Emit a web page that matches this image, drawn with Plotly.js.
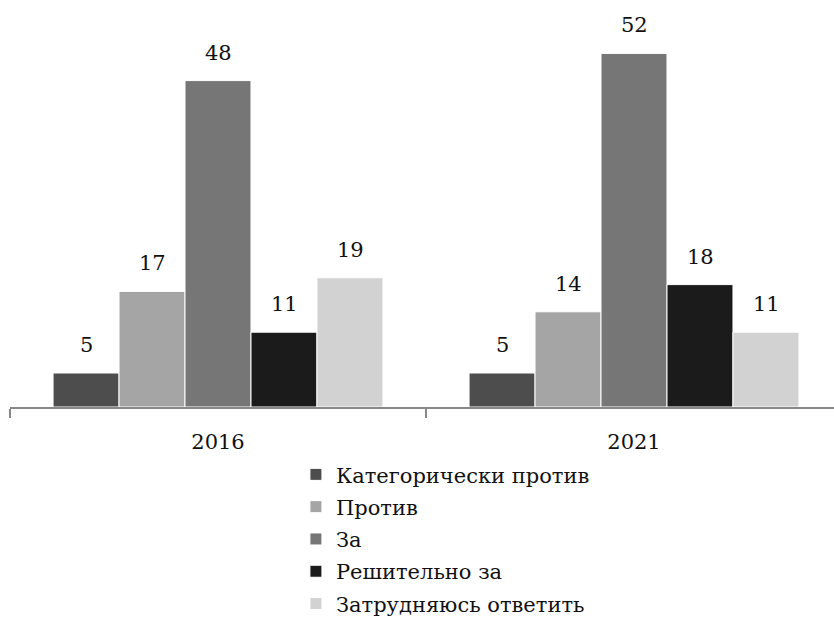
<!DOCTYPE html>
<html>
<head>
<meta charset="utf-8">
<script src="https://cdn.plot.ly/plotly-3.0.1.min.js"></script>
<style>html,body{margin:0;padding:0;background:#fff;}#chart{width:834px;height:618px;}</style>
</head>
<body>
<div id="chart"></div>
<script>
const years = ["2016", "2021"];
const seriesNames = ["Категорически против", "Против", "За", "Решительно за", "Затрудняюсь ответить"];
const catAgainst = [5, 5];
const against = [17, 14];
const forVals = [48, 52];
const stronglyFor = [11, 18];
const hardToSay = [19, 11];
const seriesValues = [catAgainst, against, forVals, stronglyFor, hardToSay];
const colors = ["#4d4d4d", "#a5a5a5", "#767676", "#1b1b1b", "#d2d2d2"];

const FONT = "DejaVu Serif, serif";
const FS = 21;
const traces = seriesNames.map((name, i) => ({
  type: "bar",
  name: name,
  legendgroup: "g" + i,
  x: years,
  y: seriesValues[i],
  marker: {color: colors[i], line: {color: "#ffffff", width: 1}},
  hoverinfo: "skip"
}));

const pitch = 66 / 416;
const annotations = [];
seriesValues.forEach((vals, i) => {
  vals.forEach((v, j) => {
    annotations.push({
      x: j + (i - 2) * pitch,
      y: v,
      xref: "x", yref: "y",
      text: String(v),
      showarrow: false,
      yanchor: "middle",
      yshift: 28,
      font: {family: FONT, size: FS, color: "#111"}
    });
  });
});

const layout = {
  width: 834, height: 618,
  margin: {l: 10, r: 0, t: 20, b: 211, autoexpand: false},
  paper_bgcolor: "#ffffff", plot_bgcolor: "#ffffff",
  barmode: "group",
  bargap: 0.207,
  bargroupgap: 0,
  font: {family: FONT, size: FS, color: "#111"},
  xaxis: {
    type: "category",
    range: [-0.5, -0.5 + 824 / 416],
    showline: true, linecolor: "#888888", linewidth: 1.5,
    ticks: "outside", tickson: "boundaries", ticklen: 9, tickcolor: "#888888", tickwidth: 1.5,
    ticklabelstandoff: 15,
    showgrid: false, zeroline: false,
    automargin: false,
    tickfont: {family: FONT, size: FS, color: "#111"}
  },
  yaxis: {
    range: [0, 387 / 6.8],
    visible: false, showgrid: false, zeroline: false
  },
  showlegend: true,
  legend: {
    orientation: "v",
    x: 0.347, xanchor: "left",
    y: -0.122, yanchor: "top",
    font: {family: FONT, size: FS, color: "#111"},
    tracegroupgap: 2,
    bgcolor: "rgba(0,0,0,0)"
  },
  annotations: annotations
};

Plotly.newPlot("chart", traces, layout, {displayModeBar: false, staticPlot: true});
</script>
</body>
</html>
